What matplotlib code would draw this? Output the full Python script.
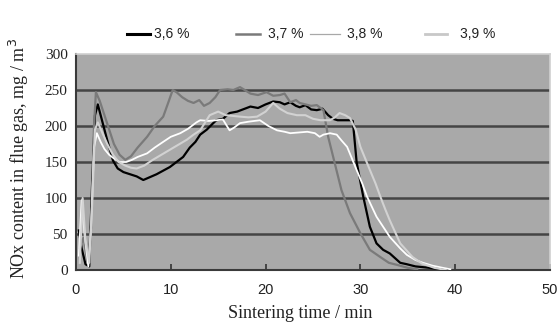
import matplotlib
matplotlib.use("Agg")
import matplotlib.pyplot as plt
from matplotlib.lines import Line2D

# ---- data ----
labels = ["3,6 %", "3,7 %", "3,8 %", "3,9 %"]
x_ticks = [0, 10, 20, 30, 40, 50]
y_ticks = [0, 50, 100, 150, 200, 250, 300]

t36 = [0.3, 0.6, 1.0, 1.4, 1.7, 2.0, 2.3, 2.8, 3.3, 3.9, 4.4, 5.0, 5.7, 6.4, 7.1,
       7.8, 8.5, 9.2, 9.9, 10.6, 11.3, 12.0, 12.6, 13.1, 13.8, 14.4, 14.8, 15.5, 16.2, 17.0,
       17.6, 18.4, 19.2, 20.0, 20.8, 21.5, 22.0, 22.6, 23.2, 23.6, 24.2, 24.8, 25.4, 26.0, 26.6,
       27.1, 27.6, 28.2, 28.9, 29.2, 29.6, 30.3, 31.0, 31.7, 32.4, 33.1, 34.2, 34.9, 35.8, 37.3,
       38.5, 39.5]
v36 = [55, 30, 8, 5, 120, 215, 230, 205, 180, 152, 141, 136, 133, 130, 125,
       129, 133, 138, 143, 150, 157, 170, 178, 188, 195, 203, 208, 210, 218, 220,
       223, 227, 225, 230, 234, 233, 230, 233, 228, 226, 229, 223, 222, 224, 215,
       210, 208, 208, 208, 207, 150, 102, 60, 37, 28, 23, 10, 8, 5, 3,
       1, 0]

t37 = [0.4, 0.8, 1.2, 1.6, 1.9, 2.1, 2.5, 3.0, 3.5, 4.0, 4.6, 5.2, 5.8, 6.5, 7.5,
       8.3, 9.2, 9.8, 10.2, 10.6, 11.2, 11.8, 12.4, 13.0, 13.5, 14.1, 14.7, 15.2, 16.0, 16.6,
       17.3, 17.8, 18.4, 19.2, 20.1, 20.8, 21.5, 22.0, 22.6, 23.2, 23.6, 24.2, 24.8, 25.4, 26.1,
       26.6, 27.3, 28.0, 28.9, 30.0, 31.0, 32.1, 33.0, 33.9, 35.0, 36.0]
v37 = [30, 45, 10, 60, 200, 247, 235, 215, 195, 175, 160, 153, 158, 170, 185,
       200, 213, 235, 250, 247, 240, 235, 232, 236, 228, 232, 240, 250, 251, 250,
       254, 250, 245, 243, 247, 242, 243, 245, 233, 236, 232, 230, 228, 229, 222,
       185, 148, 111, 79, 51, 28, 18, 10, 7, 3, 1]

t38 = [0.3, 0.6, 0.9, 1.3, 1.6, 1.9, 2.2, 2.6, 3.0, 3.5, 4.0, 4.6, 5.3, 5.9, 6.5,
       7.5, 8.3, 9.2, 10.0, 11.0, 11.8, 12.7, 13.1, 14.0, 14.8, 15.5, 16.2, 16.7, 17.3, 18.2,
       19.4, 20.3, 21.2, 22.0, 22.6, 23.5, 24.4, 25.2, 25.7, 26.1, 26.8, 27.5, 28.0, 28.6, 29.1,
       29.6, 30.2, 30.7, 31.2, 31.7, 32.4, 33.1, 34.2, 34.9, 35.8, 36.6, 37.6, 38.7, 39.5]
v38 = [20, 97, 50, 5, 60, 170, 190, 178, 168, 160, 155, 150, 150, 153, 157,
       162, 170, 178, 185, 190, 196, 205, 208, 207, 208, 209, 194, 198, 204, 206,
       208, 200, 194, 192, 190, 191, 192, 190, 185, 188, 190, 188, 180, 171, 155,
       139, 120, 102, 88, 74, 60, 46, 30, 21, 14, 10, 6, 3, 1]

t39 = [0.4, 0.7, 1.0, 1.4, 1.7, 2.0, 2.3, 2.8, 3.3, 3.9, 4.5, 5.2, 5.8, 6.4, 7.2,
       8.1, 9.0, 9.9, 10.8, 11.7, 12.4, 13.1, 14.1, 15.0, 15.8, 17.3, 18.2, 19.1, 20.0, 20.8,
       21.5, 22.3, 23.3, 24.2, 25.0, 25.8, 26.8, 27.3, 27.8, 28.4, 28.9, 29.5, 30.0, 30.5, 31.0,
       31.6, 32.1, 32.6, 33.1, 34.2, 35.5, 36.5, 37.8, 39.0]
v39 = [10, 100, 40, 10, 90, 195, 205, 190, 175, 160, 150, 145, 142, 141, 145,
       153, 160, 167, 174, 181, 188, 194, 215, 220, 215, 213, 212, 213, 220, 232,
       224, 218, 215, 215, 210, 208, 208, 212, 218, 215, 211, 195, 171, 155, 139,
       120, 102, 85, 69, 37, 18, 9, 3, 0]

series_t = [t36, t37, t38, t39]
series_v = [v36, v37, v38, v39]
colors = ["#000000", "#7a7a7a", "#ffffff", "#d2d2d2"]
widths = [1.6, 1.6, 1.3, 1.5]
legend_colors = ["#000000", "#7a7a7a", "#a8a8a8", "#c8c8c8"]
legend_widths = [2.2, 1.8, 0.9, 2.0]

W, H = 558, 325
fig = plt.figure(figsize=(W / 100, H / 100), dpi=100)
ax = fig.add_axes([76 / W, 1 - 270 / H, (550 - 76) / W, (270 - 54) / H])
ax.set_facecolor("#a9a9a9")

for t, v, c, lw in zip(series_t, series_v, colors, widths):
    ax.plot(t, v, color=c, lw=lw, zorder=3)

ax.set_xlim(0, 50)
ax.set_ylim(0, 300)
ax.set_xticks(x_ticks)
ax.set_yticks(y_ticks)
ax.set_xticklabels([str(x) for x in x_ticks], family="Liberation Sans", fontsize=10.5, color="#222222")
ax.set_yticklabels([str(y) for y in y_ticks], family="Liberation Serif", fontsize=11, color="#222222")
ax.tick_params(axis="y", length=0, pad=6)
ax.tick_params(axis="x", direction="in", length=4, width=1.2, color="#333333", pad=9)

for y in y_ticks[1:-1]:
    ax.axhline(y, color="#454545", lw=1.8, zorder=2)

for s in ["left", "bottom"]:
    ax.spines[s].set_color("#3a3a3a")
    ax.spines[s].set_linewidth(1.5)
for s in ["top", "right"]:
    ax.spines[s].set_color("#d0d0d0")
    ax.spines[s].set_linewidth(1.2)

fig.text(300 / W, 1 - 314 / H, "Sintering time / min", family="Liberation Serif",
         fontsize=13, ha="center", va="center", color="#222222")
fig.text(19 / W, 1 - 158 / H, "NOx content in flue gas, mg / m$^3$", family="Liberation Serif",
         fontsize=13, ha="center", va="center", rotation=90, color="#222222")

# legend (manual placement)
leg_y = 1 - 34 / H
line_x = [(127, 150), (236, 260), (310, 340), (425, 447)]
text_x = [154, 268, 347, 460]
for (x0, x1), tx, lab, c, lw in zip(line_x, text_x, labels, legend_colors, legend_widths):
    fig.add_artist(Line2D([x0 / W, x1 / W], [leg_y, leg_y], color=c, lw=lw, transform=fig.transFigure))
    fig.text(tx / W, leg_y, lab, family="Liberation Sans", fontsize=10, ha="left", va="center", color="#222222")

fig.savefig("out.png", dpi=100)
